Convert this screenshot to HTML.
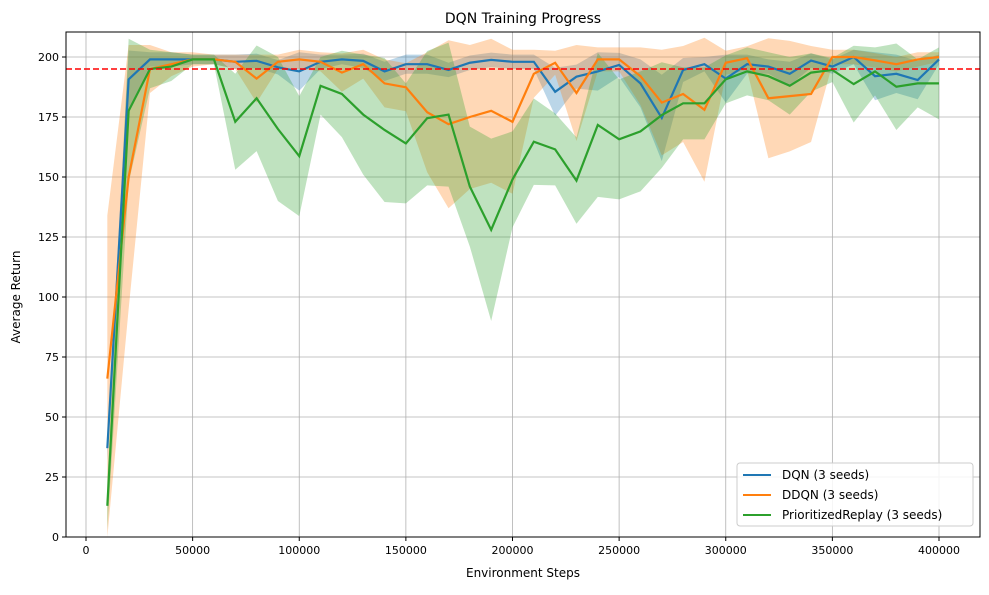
<!DOCTYPE html>
<html><head><meta charset="utf-8"><style>
body{margin:0;background:#fff;font-family:"Liberation Sans","DejaVu Sans",sans-serif}
svg text{font-family:"DejaVu Sans","Liberation Sans",sans-serif}
</style></head><body>
<svg id="chart" width="989" height="590" xmlns="http://www.w3.org/2000/svg">
<rect width="989" height="590" fill="#fff"/>
<text x="523" y="23" font-size="14" text-anchor="middle">DQN Training Progress</text>
<g id="grid"></g><g id="bands"></g><g id="lines"></g><g id="axes"></g>
<text x="523" y="577" font-size="12" text-anchor="middle">Environment Steps</text>
<text transform="translate(20,297) rotate(-90)" font-size="12" text-anchor="middle">Average Return</text>
<g>
<rect x="737" y="463" width="236" height="63" rx="3" fill="#fff" fill-opacity="0.85" stroke="#ccc"/>
<line x1="743" y1="475" x2="771" y2="475" stroke="#1f77b4" stroke-width="2"/>
<text x="782" y="479" font-size="12">DQN (3 seeds)</text>
<line x1="743" y1="495" x2="771" y2="495" stroke="#ff7f0e" stroke-width="2"/>
<text x="782" y="499" font-size="12">DDQN (3 seeds)</text>
<line x1="743" y1="515" x2="771" y2="515" stroke="#2ca02c" stroke-width="2"/>
<text x="782" y="519" font-size="12">PrioritizedReplay (3 seeds)</text>
</g>
</svg>
<script>
const steps=[10000,20000,30000,40000,50000,60000,70000,80000,90000,100000,110000,120000,130000,140000,150000,160000,170000,180000,190000,200000,210000,220000,230000,240000,250000,260000,270000,280000,290000,300000,310000,320000,330000,340000,350000,360000,370000,380000,390000,400000];
const dqnMean=[37,190.7,199,199,199,199,198,198.4,195.7,194,198,199,198.4,194,197,197,194.6,197.6,198.8,198,198,185.5,191.8,194,196.7,189,174.6,194.6,197,191,197,196,193,198.5,196,200,192,193,190.4,199];
const dqnSpread=[5,12,3,3,2,2,3,3,3,8,3,2,3,4,4,4,3,3,3,3,3,10,5,8,5,10,18,5,3,10,4,3,5,3,3,3,10,8,8,2];
const ddqnMean=[66,150,195,197,199,199,198,191,198,199,198,193.5,197,189,187.4,177,172,175,177.6,173,193,197.6,185,199,199,192,181,184.6,178,197.6,199.5,182.8,183.7,184.6,200,200,198.6,197,199,200];
const ddqnSpread=[68,55,10,5,3,2,3,10,3,4,4,8,6,10,10,25,35,30,30,30,10,5,20,5,5,12,22,20,30,5,5,25,23,20,3,3,3,3,3,2];
const perMean=[13,177.6,195,196,199,199,173,182.8,170,158.7,188,184.6,176,169.6,164,174.5,176,146,128,149,164.7,161.5,148.5,171.7,165.7,169,175.8,180.7,180.7,190.7,194,192,188,193.5,194.6,188.7,194,187.6,189,189];
const perSpread=[10,30,8,6,2,2,20,22,30,25,12,18,25,30,25,28,30,25,38,20,18,15,18,30,25,25,22,15,15,10,10,10,12,8,5,16,10,18,10,15];
const xTicks=[0,50000,100000,150000,200000,250000,300000,350000,400000];
const yTicks=[0,25,50,75,100,125,150,175,200];
const threshold=195;
const L=66,R=980,T=32,B=537;
const xs=v=>86+(v/400000)*853;
const ys=v=>537-(v/200)*480;
const NS="http://www.w3.org/2000/svg";
function mk(tag,attrs,parent){const e=document.createElementNS(NS,tag);for(const k in attrs)e.setAttribute(k,attrs[k]);parent.appendChild(e);return e;}
const grid=document.getElementById('grid'),axes=document.getElementById('axes'),bands=document.getElementById('bands'),lines=document.getElementById('lines');
xTicks.forEach(t=>{const x=xs(t);
const g=mk('line',{x1:x,x2:x,y1:T,y2:B,stroke:'#b0b0b0','stroke-width':0.8},grid);


mk('line',{x1:x,x2:x,y1:B,y2:B+4,stroke:'#000'},axes);
const tx=mk('text',{x:x,y:B+17,'font-size':11,'text-anchor':'middle'},axes);tx.textContent=t;

});
yTicks.forEach(t=>{const y=ys(t);
const g=mk('line',{x1:L,x2:R,y1:y,y2:y,stroke:'#b0b0b0','stroke-width':0.8},grid);


mk('line',{x1:L-4,x2:L,y1:y,y2:y,stroke:'#000'},axes);
const tx=mk('text',{x:L-7,y:y+4,'font-size':11,'text-anchor':'end'},axes);tx.textContent=t;

});
const frame=mk('rect',{x:L,y:T,width:R-L,height:B-T,fill:'none',stroke:'#000','stroke-width':1},axes);


const series=[['dqn',dqnMean,dqnSpread,'#1f77b4'],['ddqn',ddqnMean,ddqnSpread,'#ff7f0e'],['per',perMean,perSpread,'#2ca02c']];
series.forEach(([n,m,s,c])=>{
let up=steps.map((x,i)=>xs(x)+','+ys(m[i]+s[i]));
let lo=steps.map((x,i)=>xs(x)+','+ys(Math.max(0,m[i]-s[i]))).reverse();
const b=mk('polygon',{points:up.concat(lo).join(' '),fill:c,'fill-opacity':0.3},bands);


const l=mk('polyline',{points:steps.map((x,i)=>xs(x)+','+ys(m[i])).join(' '),fill:'none',stroke:c,'stroke-width':2.2},lines);

});
const th=mk('line',{x1:L,x2:R,y1:ys(threshold),y2:ys(threshold),stroke:'#ff0000','stroke-width':1.6,'stroke-dasharray':'6,3'},lines);


</script>
</body></html>
